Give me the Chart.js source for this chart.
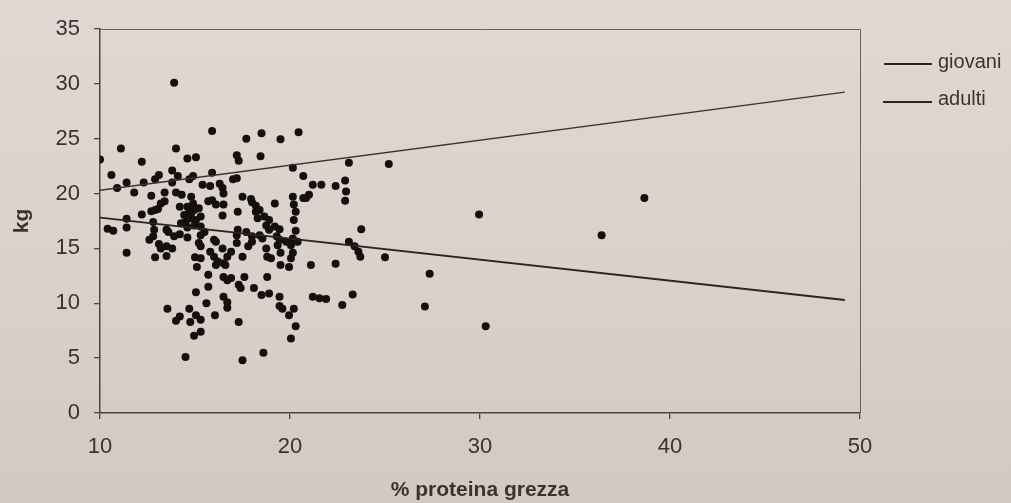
<!DOCTYPE html>
<html>
<head>
<meta charset="utf-8">
<script src="https://cdn.jsdelivr.net/npm/chart.js@4/dist/chart.umd.min.js"></script>
<style>
html,body{margin:0;padding:0;}
body{width:1011px;height:503px;position:relative;overflow:hidden;
  background:linear-gradient(180deg,#e0d8d2 0%,#dad1ca 55%,#d3c9c2 100%);
  font-family:"Liberation Sans",Arial,sans-serif;}
#wrap{position:absolute;left:0;top:0;width:1011px;height:503px;}
.legline{position:absolute;background:#2a2422;}
.legtext{position:absolute;font-size:20px;line-height:20px;color:#3a3330;white-space:nowrap;}
</style>
</head>
<body>
<div id="wrap"><canvas id="c" width="1011" height="503"></canvas></div>
<div class="legline" style="left:884px;top:63px;width:48px;height:2px;"></div>
<div class="legtext" id="leg0" style="left:938px;top:51px;"></div>
<div class="legline" style="left:883px;top:101px;width:49px;height:1.5px;"></div>
<div class="legtext" id="leg1" style="left:938px;top:88px;"></div>
<script>
// ---- data ----
const proteinX = [
 13.9,15.9,17.7,18.5,19.5,20.45,
 11.1,14.0,10.0,14.6,15.05,12.2,17.2,17.3,18.45,
 10.6,13.8,14.1,13.1,12.9,15.9,14.7,14.9,
 11.4,12.3,10.9,13.8,15.4,15.8,16.3,17.0,17.2,
 20.15,20.7,23.1,25.2,21.2,21.65,22.4,22.9,22.95,22.9,
 16.45,16.5,
 11.8,13.4,14.0,14.3,14.8,12.7,13.4,13.2,
 17.5,17.95,18.0,18.2,19.2,20.15,20.2,20.3,20.7,21.0,20.85,
 15.7,15.9,16.1,16.5,
 12.9,12.7,12.2,14.6,14.9,13.05,
 14.43,14.7,14.96,15.2,14.52,14.79,15.05,15.3,14.26,14.96,15.3,15.5,14.2,14.6,14.8,
 11.4,12.8,16.45,17.25,18.2,18.3,18.4,18.65,18.9,18.75,18.9,19.2,20.2,
 10.4,10.7,11.4,12.85,13.5,13.9,14.2,14.6,12.8,12.6,15.3,16.0,17.25,17.7,17.2,18.0,18.4,18.55,19.3,19.45,19.8,20.15,19.45,20.3,23.75,13.6,
 13.1,13.2,13.5,13.8,11.4,12.9,13.5,15.0,15.3,15.3,15.2,15.8,16.45,16.7,16.1,16.0,16.2,16.5,16.9,17.2,17.5,18.0,17.8,18.75,18.8,19.0,19.35,19.5,20.05,20.15,20.05,20.4,23.1,23.4,23.6,23.7,25.0,
 15.1,16.1,16.6,15.7,16.5,16.7,16.9,17.3,17.6,18.8,19.5,19.95,21.1,22.4,27.35,17.4,18.1,15.7,
 15.05,16.5,16.7,16.7,15.6,18.5,18.9,19.45,19.45,19.6,21.2,21.55,21.9,23.3,22.75,27.1,13.55,14.7,20.2,
 14.2,14.0,15.05,15.3,14.75,16.05,17.3,15.3,14.95,14.5,17.5,18.6,19.95,20.3,20.05,30.3,
 29.95,36.4,38.65
];
const weightY = [
 30.1,25.7,25.0,25.5,24.95,25.6,
 24.1,24.1,23.1,23.2,23.3,22.9,23.5,23.0,23.4,
 21.7,22.1,21.6,21.7,21.3,21.9,21.3,21.6,
 21.0,21.0,20.5,21.0,20.8,20.7,20.9,21.3,21.4,
 22.35,21.6,22.8,22.7,20.8,20.8,20.7,21.2,20.2,19.35,
 20.5,20.0,
 20.1,20.1,20.1,19.9,19.7,19.8,19.3,19.1,
 19.7,19.5,19.2,18.9,19.1,19.7,19.0,18.35,19.6,19.9,19.6,
 19.3,19.4,19.0,19.0,
 18.5,18.4,18.1,18.8,19.1,18.6,
 18.05,18.35,18.5,18.66,17.44,17.75,17.6,17.9,17.3,17.1,17.0,16.5,18.8,16.9,18.2,
 17.7,17.4,18.0,18.35,18.35,17.75,18.5,17.9,17.6,17.1,16.7,17.0,17.6,
 16.8,16.6,16.9,16.7,16.7,16.1,16.3,16.0,16.1,15.8,16.2,15.8,16.7,16.5,16.2,16.1,16.2,15.9,16.1,15.8,15.6,15.9,16.75,16.6,16.75,16.5,
 15.4,15.0,15.2,15.0,14.6,14.2,14.3,14.2,14.1,15.2,15.5,14.7,15.0,14.25,15.6,14.25,13.8,13.65,14.7,15.5,14.25,15.6,15.2,15.0,14.25,14.1,15.3,14.6,15.3,14.6,14.1,15.6,15.6,15.2,14.7,14.25,14.2,
 13.3,13.5,13.5,12.6,12.4,12.1,12.3,11.7,12.4,12.4,13.5,13.3,13.5,13.6,12.7,11.4,11.4,11.5,
 11.0,10.6,10.1,9.6,10.0,10.75,10.9,10.6,9.75,9.5,10.6,10.45,10.4,10.8,9.85,9.7,9.5,9.5,9.5,
 8.8,8.4,8.9,8.5,8.3,8.9,8.3,7.4,7.05,5.1,4.8,5.5,8.9,7.9,6.8,7.9,
 18.1,16.2,19.6
];
const lineX = [10, 49.2];
const giovaniY = [17.8, 10.3];
const adultiY = [20.3, 29.25];
const seriesNames = ['giovani', 'adulti'];
const xTickValues = [10, 20, 30, 40, 50];
const yTickValues = [0, 5, 10, 15, 20, 25, 30, 35];
const xTitle = '% proteina grezza';
const yTitle = 'kg';

document.getElementById('leg0').textContent = seriesNames[0];
document.getElementById('leg1').textContent = seriesNames[1];

const textColor = '#3a3330';
const axisColor = '#4e4542';

const framePlugin = {
  id: 'frame',
  afterDraw(chart) {
    const a = chart.chartArea, ctx = chart.ctx;
    ctx.save();
    ctx.strokeStyle = '#6b625e';
    ctx.lineWidth = 1;
    ctx.beginPath();
    ctx.moveTo(a.left, a.top + 0.5);
    ctx.lineTo(a.right + 0.5, a.top + 0.5);
    ctx.lineTo(a.right + 0.5, a.bottom);
    ctx.stroke();
    ctx.restore();
  }
};

new Chart(document.getElementById('c'), {
  type: 'scatter',
  data: {
    datasets: [
      {
        label: 'dati',
        data: proteinX.map((x, i) => ({x: x, y: weightY[i]})),
        pointRadius: 4,
        pointHoverRadius: 4,
        pointBackgroundColor: '#15100f',
        pointBorderWidth: 0,
        showLine: false,
        order: 2
      },
      {
        label: seriesNames[0],
        data: lineX.map((x, i) => ({x: x, y: giovaniY[i]})),
        showLine: true,
        pointRadius: 0,
        borderColor: '#2a2422',
        borderWidth: 1.8,
        order: 1
      },
      {
        label: seriesNames[1],
        data: lineX.map((x, i) => ({x: x, y: adultiY[i]})),
        showLine: true,
        pointRadius: 0,
        borderColor: '#3a3230',
        borderWidth: 1.3,
        order: 1
      }
    ]
  },
  options: {
    responsive: false,
    animation: false,
    devicePixelRatio: 1,
    layout: {padding: {top: 29, right: 151, bottom: 0, left: 0}},
    plugins: {legend: {display: false}, tooltip: {enabled: false}},
    scales: {
      x: {
        type: 'linear',
        min: xTickValues[0],
        max: xTickValues[xTickValues.length - 1],
        afterBuildTicks: s => { s.ticks = xTickValues.map(v => ({value: v})); },
        afterFit: s => { s.height = 90; },
        ticks: {color: textColor, font: {family: 'Liberation Sans', size: 22}, padding: 15, maxRotation: 0},
        grid: {display: true, drawOnChartArea: false, drawTicks: true, tickLength: 6, color: axisColor, lineWidth: 1.3},
        border: {display: true, color: axisColor, width: 1.5},
        title: {display: true, text: xTitle, color: textColor, font: {family: 'Liberation Sans', size: 21, weight: 'bold'}, padding: {top: 0, bottom: 0}}
      },
      y: {
        type: 'linear',
        min: yTickValues[0],
        max: yTickValues[yTickValues.length - 1],
        afterBuildTicks: s => { s.ticks = yTickValues.map(v => ({value: v})); },
        afterFit: s => { s.width = 100; },
        ticks: {color: textColor, font: {family: 'Liberation Sans', size: 22}, padding: 14},
        grid: {display: true, drawOnChartArea: false, drawTicks: true, tickLength: 6, color: axisColor, lineWidth: 1.3},
        border: {display: true, color: axisColor, width: 1.5},
        title: {display: true, text: yTitle, color: textColor, font: {family: 'Liberation Sans', size: 21, weight: 'bold'}, padding: {top: 10, bottom: 0}}
      }
    }
  },
  plugins: [framePlugin]
});
</script>
</body>
</html>
